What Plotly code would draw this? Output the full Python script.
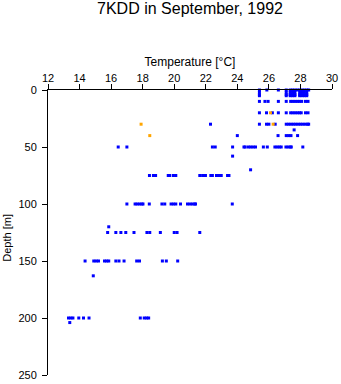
import plotly.graph_objects as go

# Blue observations: temperature (degC) and depth (m)
blue_temp = [
    # depth 0-5 (surface cluster)
    25.4, 25.4, 25.4, 25.4,
    27.1, 27.1, 27.1, 27.1,
    25.87, 26.6,
    27.35, 27.5, 27.65, 27.8, 27.95, 28.1, 28.25, 28.4, 28.52,
    27.35, 27.5, 27.65, 27.95, 28.1, 28.25, 28.4,
    27.35, 27.5, 27.65, 27.95, 28.1, 28.25, 28.4,
    27.35, 27.5, 27.65, 27.95, 28.1, 28.25, 28.4,
    # depth 10
    25.4, 25.75, 25.95, 26.6, 27.1, 27.38, 27.52, 27.66, 27.8, 27.94, 28.08, 28.32, 28.48,
    # depth 20
    25.4, 25.85, 26.22, 26.6, 27.1, 27.38, 27.52, 27.66, 27.8, 27.94, 28.05, 28.32, 28.48,
    # depth 30
    22.3, 25.4, 25.85, 26.0, 26.4, 27.1, 27.25, 27.4, 27.55, 27.7, 27.85, 28.0, 28.15, 28.3, 28.45, 28.52,
    # depth 35
    27.6,
    # depth 40
    24.0, 26.58, 27.1, 27.25, 27.4, 27.82,
    # depth 50
    16.45, 17.0, 22.42, 22.6, 23.7, 24.42, 24.5, 24.7, 24.85, 25.0, 25.15,
    25.65, 25.9, 26.38, 26.52, 26.66, 26.78, 27.08, 27.22, 27.36, 27.42, 28.15,
    # depth 58, 70
    23.7, 24.84,
    # depth 75
    18.43, 18.68, 18.82, 19.62, 19.72, 19.95, 20.1, 21.62, 21.8, 21.98,
    22.32, 22.42, 22.68, 22.85, 22.98, 23.38, 23.47,
    # depth 100
    17.0, 17.52, 17.65, 17.8, 17.95, 18.02, 18.42, 19.22, 19.4, 19.8, 19.95, 20.1,
    20.4, 20.84, 21.0, 21.15, 21.3, 21.35, 23.68,
    # depth 120
    15.85,
    # depth 125
    15.78, 16.3, 16.62, 16.93, 17.45, 18.27, 18.45, 19.12, 20.0, 20.18, 21.62,
    # depth 150
    14.35, 14.9, 15.05, 15.2, 15.58, 15.72, 15.85, 16.3, 16.5, 16.82, 17.62, 17.8,
    19.25, 19.5, 20.22,
    # depth 163
    14.87,
    # depth 200
    13.3, 13.45, 13.58, 13.95, 14.25, 14.6, 17.85, 18.1, 18.25, 18.38,
    # depth 204
    13.38,
]
blue_depth = (
    [0, 2, 4, 5] * 2
    + [0, 0]
    + [0] * 9 + [2] * 7 + [4] * 7 + [5] * 7
    + [10] * 13
    + [20] * 13
    + [30] * 16
    + [35]
    + [40] * 6
    + [50] * 22
    + [58, 70]
    + [75] * 17
    + [100] * 19
    + [120]
    + [125] * 11
    + [150] * 15
    + [163]
    + [200] * 10
    + [204]
)

# Orange observations
orange_temp = [17.9, 18.45, 26.1, 26.27]
orange_depth = [30, 40, 20, 30]

x_ticks = [12, 14, 16, 18, 20, 22, 24, 26, 28, 30]
y_ticks = [0, 50, 100, 150, 200, 250]

FONT = "Liberation Sans, Arial, sans-serif"
L, R, T, B = 48, 9, 90, 9
W, H = 341, 384
PW, PH = W - L - R, H - T - B

fig = go.Figure()
fig.add_trace(go.Scatter(
    x=blue_temp, y=blue_depth, mode="markers",
    marker=dict(symbol="square", size=3, color="#0000ff", line=dict(width=0)),
    cliponaxis=False, showlegend=False,
))
fig.add_trace(go.Scatter(
    x=orange_temp, y=orange_depth, mode="markers",
    marker=dict(symbol="square", size=3, color="#ffa500", line=dict(width=0)),
    cliponaxis=False, showlegend=False,
))

fig.update_layout(
    width=W, height=H,
    margin=dict(l=L, r=R, t=T, b=B, pad=0, autoexpand=False),
    paper_bgcolor="white", plot_bgcolor="white",
    font=dict(family=FONT, color="black", size=11),
    title=dict(text="7KDD in September, 1992", x=0.5, xref="paper",
               y=1 - 8 / H, yanchor="middle", font=dict(size=16, family=FONT)),
    xaxis=dict(
        side="top", range=[12, 30], tickvals=x_ticks, ticktext=[str(v) for v in x_ticks],
        showline=True, linecolor="black", linewidth=1, mirror=False,
        ticks="outside", ticklen=5, tickwidth=1, tickcolor="black",
        showgrid=False, zeroline=False, automargin=False,
        ticklabelstandoff=-2,
        title=dict(text="Temperature [°C]", font=dict(size=12), standoff=2),
        tickfont=dict(size=11),
    ),
    yaxis=dict(
        range=[250, 0], tickvals=y_ticks, ticktext=[str(v) for v in y_ticks],
        showline=True, linecolor="black", linewidth=1, mirror=False,
        ticks="outside", ticklen=5, tickwidth=1, tickcolor="black",
        showgrid=False, zeroline=False, automargin=False,
        ticklabelstandoff=3,
        tickfont=dict(size=11),
    ),
    annotations=[dict(
        text="Depth [m]", textangle=-90, showarrow=False,
        xref="paper", yref="paper",
        x=(6.7 - L) / PW, y=1 - (238 - T) / PH,
        xanchor="center", yanchor="middle",
        font=dict(size=11, family=FONT, color="black"),
    )],
)

fig.write_html("out.html")
